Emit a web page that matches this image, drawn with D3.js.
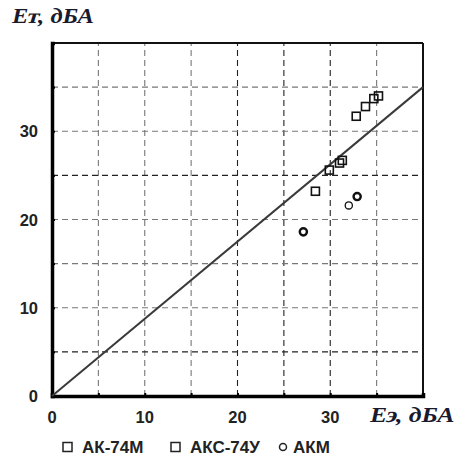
<!DOCTYPE html>
<html>
<head>
<meta charset="utf-8">
<script src="https://cdn.jsdelivr.net/npm/d3@7"></script>
<style>
  html, body { margin: 0; padding: 0; background: #fff; }
  svg { display: block; }
  .tick-label { font-family: "Liberation Sans", Arial, sans-serif; font-weight: bold; font-size: 16.5px; fill: #222; }
  .axis-title { font-family: "Liberation Serif", "Times New Roman", serif; font-weight: bold; font-style: italic; fill: #1a1a2e; }
  .axis-title.upright { font-style: normal; }
  .legend-label { font-family: "Liberation Sans", Arial, sans-serif; font-weight: bold; font-size: 17px; fill: #222; }
</style>
</head>
<body>
<div id="chart"></div>
<script>
// Axis ranges and ticks
const xDomain = [0, 40];
const yDomain = [0, 40];
const gridTicks = [5, 10, 15, 20, 25, 30, 35];
const xTickLabels = [0, 10, 20, 30];
const yTickLabels = [0, 10, 20, 30];

// Series names
const seriesNames = ['АК-74М', 'АКС-74У', 'АКМ'];

// АК-74М (upper group of squares)
const ak74mX = [32.8, 33.8, 34.7, 35.2];
const ak74mY = [31.7, 32.8, 33.7, 34.0];

// АКС-74У (lower group of squares)
const aks74uX = [28.4, 29.9, 31.0, 31.3];
const aks74uY = [23.2, 25.6, 26.4, 26.7];

// АКМ (circles)
const akmX = [27.1, 32.0, 32.9];
const akmY = [18.6, 21.6, 22.6];

// Reference line Eт = k·Eэ
const lineX = [0, 40];
const lineY = [0, 35];

const width = 458, height = 461;
const margin = { left: 52, right: 35, top: 43, bottom: 65 };

const svg = d3.select('#chart').append('svg')
  .attr('width', width)
  .attr('height', height);

const x = d3.scaleLinear().domain(xDomain).range([margin.left, width - margin.right]);
const y = d3.scaleLinear().domain(yDomain).range([height - margin.bottom, margin.top]);

// darker dashed lines in the scan
const darkX = [20, 25, 30];
const darkY = [5, 25];

// Grid
svg.append('g')
  .selectAll('line')
  .data(gridTicks)
  .join('line')
  .attr('x1', d => x(d)).attr('x2', d => x(d))
  .attr('y1', y(yDomain[0])).attr('y2', y(yDomain[1]))
  .attr('stroke', d => darkX.includes(d) ? '#222' : '#777')
  .attr('stroke-width', 1.1)
  .attr('stroke-dasharray', '6,4');

svg.append('g')
  .selectAll('line')
  .data(gridTicks)
  .join('line')
  .attr('y1', d => y(d)).attr('y2', d => y(d))
  .attr('x1', x(xDomain[0])).attr('x2', x(xDomain[1]))
  .attr('stroke', d => darkY.includes(d) ? '#222' : '#777')
  .attr('stroke-width', 1.1)
  .attr('stroke-dasharray', '6,4');

// Frame: thin top/right, thick left/bottom
svg.append('line')
  .attr('x1', x(0)).attr('x2', x(40)).attr('y1', y(40)).attr('y2', y(40))
  .attr('stroke', '#111').attr('stroke-width', 2);
svg.append('line')
  .attr('x1', x(40)).attr('x2', x(40)).attr('y1', y(40)).attr('y2', y(0))
  .attr('stroke', '#111').attr('stroke-width', 2);

// Axes with small inward ticks
const xAxis = d3.axisBottom(x).tickValues([0].concat(gridTicks, [40])).tickSize(-3).tickFormat('');
const yAxis = d3.axisLeft(y).tickValues([0].concat(gridTicks, [40])).tickSize(-3).tickFormat('');

svg.append('g')
  .attr('transform', `translate(0,${y(0)})`)
  .call(xAxis)
  .call(g => g.select('.domain').attr('stroke', '#000').attr('stroke-width', 3.5))
  .call(g => g.selectAll('.tick line').attr('stroke', '#000').attr('stroke-width', 2));

svg.append('g')
  .attr('transform', `translate(${x(0)},0)`)
  .call(yAxis)
  .call(g => g.select('.domain').attr('stroke', '#000').attr('stroke-width', 3.5))
  .call(g => g.selectAll('.tick line').attr('stroke', '#000').attr('stroke-width', 2));

// Tick labels
svg.append('g')
  .selectAll('text')
  .data(xTickLabels)
  .join('text')
  .attr('class', 'tick-label')
  .attr('x', d => x(d))
  .attr('y', y(0) + 27)
  .attr('text-anchor', 'middle')
  .text(d => d);

svg.append('g')
  .selectAll('text')
  .data(yTickLabels)
  .join('text')
  .attr('class', 'tick-label')
  .attr('x', x(0) - 14)
  .attr('y', d => y(d) + 6)
  .attr('text-anchor', 'end')
  .text(d => d);

// Axis titles: italic, but with a slanted upright "т" / "э" like the scan
function axisTitle(left, base, size, first, second, rest, stretch) {
  const g = svg.append('g')
    .attr('transform', `translate(${left},${base}) scale(${stretch},1)`)
    .style('font-size', size + 'px');
  let cx = 0;
  const a = g.append('text').attr('class', 'axis-title').attr('x', 0).attr('y', 0).text(first);
  cx += a.node().getComputedTextLength();
  const b = g.append('text').attr('class', 'axis-title upright')
    .attr('transform', `translate(${cx - 2},0) skewX(-14)`).text(second);
  cx += b.node().getComputedTextLength() - 2;
  g.append('text').attr('class', 'axis-title').attr('x', cx).attr('y', 0).text(rest);
  return g;
}
axisTitle(12, 23, 21, 'Е', 'т', ', дБА', 1.17);
axisTitle(370, 422, 22, 'Е', 'э', ', дБА', 1.17);

// Reference line
svg.append('path')
  .datum(d3.zip(lineX, lineY))
  .attr('d', d3.line().x(d => x(d[0])).y(d => y(d[1])))
  .attr('fill', 'none')
  .attr('stroke', '#3a3a3a')
  .attr('stroke-width', 2);

// Markers
const sq = 8;
function squares(xs, ys) {
  svg.append('g')
    .selectAll('rect')
    .data(d3.zip(xs, ys))
    .join('rect')
    .attr('x', d => x(d[0]) - sq / 2)
    .attr('y', d => y(d[1]) - sq / 2)
    .attr('width', sq).attr('height', sq)
    .attr('fill', 'none')
    .attr('stroke', '#111')
    .attr('stroke-width', 1.6);
}
squares(aks74uX, aks74uY);
squares(ak74mX, ak74mY);

svg.append('g')
  .selectAll('circle')
  .data(d3.zip(akmX, akmY))
  .join('circle')
  .attr('cx', d => x(d[0]))
  .attr('cy', d => y(d[1]))
  .attr('r', 3.6)
  .attr('fill', 'none')
  .attr('stroke', '#111')
  .attr('stroke-width', (d, i) => i === 1 ? 1.3 : 2.4);

// Legend
const legendPos = [63, 171, 283];
const legendY = 447;
const legend = svg.append('g');
seriesNames.forEach((name, i) => {
  const lx = legendPos[i];
  if (i < 2) {
    legend.append('rect')
      .attr('x', lx).attr('y', legendY - 4.5)
      .attr('width', 9).attr('height', 9)
      .attr('fill', 'none').attr('stroke', '#222').attr('stroke-width', 1.5);
  } else {
    legend.append('circle')
      .attr('cx', lx).attr('cy', legendY)
      .attr('r', 3.5)
      .attr('fill', 'none').attr('stroke', '#222').attr('stroke-width', 1.5);
  }
  legend.append('text')
    .attr('class', 'legend-label')
    .attr('x', i < 2 ? lx + 19 : lx + 10)
    .attr('y', legendY + 6)
    .text(name);
});
</script>
</body>
</html>
